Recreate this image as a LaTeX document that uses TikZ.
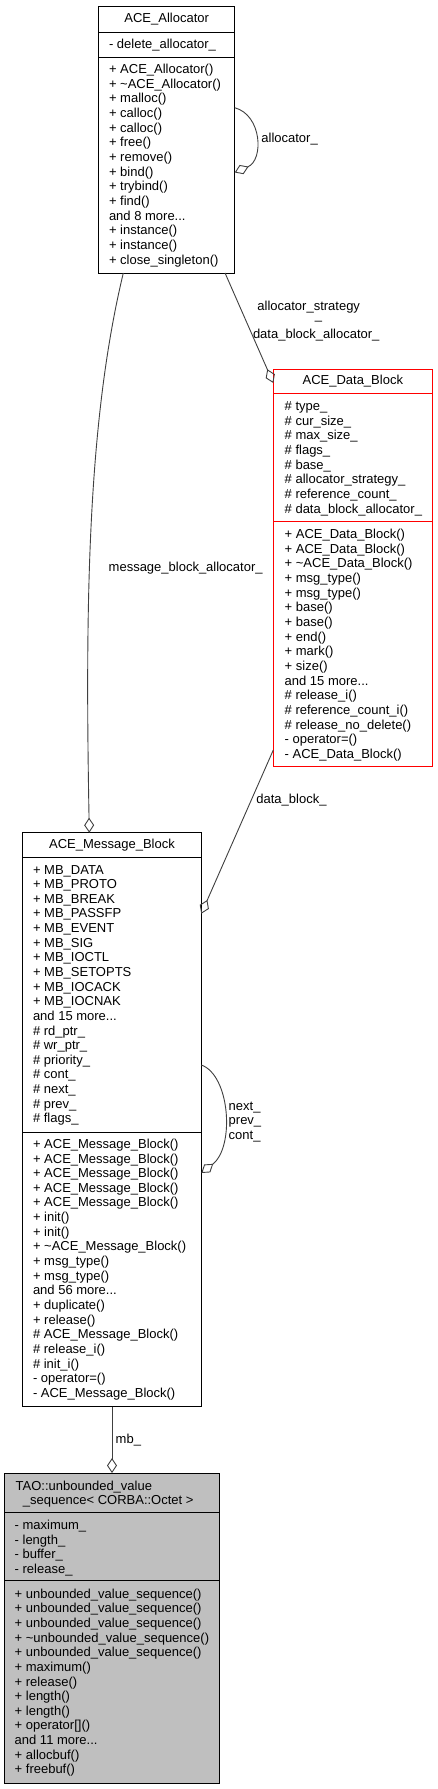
\documentclass[tikz,border=0pt]{standalone}
\usepackage{fontspec}
\setmainfont{Liberation Sans}
\usetikzlibrary{arrows.meta,calc}
\definecolor{edgec}{HTML}{404040}
\definecolor{taofill}{HTML}{BFBFBF}
\begin{document}
\begin{tikzpicture}[x=1pt,y=-1pt,
  font=\fontsize{13}{14.64}\selectfont,
  cls/.style={draw=black, line width=0.9pt, rectangle, inner sep=0pt, outer sep=0pt},
  sepline/.style={draw=black, line width=0.9pt},
  txt/.style={anchor=north west, inner sep=0pt, align=left},
  ttl/.style={anchor=base, inner sep=0pt},
  lbl/.style={anchor=base west, inner sep=0pt},
  agg/.style={draw=edgec, line width=0.9pt, -{Diamond[open, length=15pt, width=10pt]}},
]
\fill[white] (0,0) rectangle (437,1789);
\useasboundingbox (0,0) rectangle (437,1789);

% ---------------- ACE_Allocator
\node[cls, minimum width=136pt, minimum height=267pt] (alloc) at (166.7,139.5) {};
\draw[sepline] ($(alloc.north west)+(0,26)$) -- ($(alloc.north east)+(0,26)$);
\draw[sepline] ($(alloc.north west)+(0,51.3)$) -- ($(alloc.north east)+(0,51.3)$);
\node[ttl] (allocT) at (166.7,22.8) {ACE\_Allocator};
\node[txt] (allocA) at (108.8,37.95) {\strut- delete\_allocator\_};
\node[txt] (allocM) at (108.8,63.25) {\strut+ ACE\_Allocator()\\
+ \textasciitilde ACE\_Allocator()\\
+ malloc()\\
+ calloc()\\
+ calloc()\\
+ free()\\
+ remove()\\
+ bind()\\
+ trybind()\\
+ find()\\
and 8 more...\\
+ instance()\\
+ instance()\\
+ close\_singleton()};

% ---------------- ACE_Data_Block
\node[cls, draw=red, minimum width=159pt, minimum height=397.7pt] (datab) at (352.8,567.85) {};
\draw[sepline, draw=red] ($(datab.north west)+(0,24.7)$) -- ($(datab.north east)+(0,24.7)$);
\draw[sepline, draw=red] ($(datab.north west)+(0,152.7)$) -- ($(datab.north east)+(0,152.7)$);
\node[ttl] (databT) at (352.8,384.5) {ACE\_Data\_Block};
\node[txt] (databA) at (284.5,400.25) {\strut\# type\_\\
\# cur\_size\_\\
\# max\_size\_\\
\# flags\_\\
\# base\_\\
\# allocator\_strategy\_\\
\# reference\_count\_\\
\# data\_block\_allocator\_};
\node[txt] (databM) at (284.5,528.25) {\strut+ ACE\_Data\_Block()\\
+ ACE\_Data\_Block()\\
+ \textasciitilde ACE\_Data\_Block()\\
+ msg\_type()\\
+ msg\_type()\\
+ base()\\
+ base()\\
+ end()\\
+ mark()\\
+ size()\\
and 15 more...\\
\# release\_i()\\
\# reference\_count\_i()\\
\# release\_no\_delete()\\
- operator=()\\
- ACE\_Data\_Block()};

% ---------------- ACE_Message_Block
\node[cls, minimum width=178.6pt, minimum height=574pt] (msg) at (112,1119.7) {};
\draw[sepline] ($(msg.north west)+(0,24.6)$) -- ($(msg.north east)+(0,24.6)$);
\draw[sepline] ($(msg.north west)+(0,300)$) -- ($(msg.north east)+(0,300)$);
\node[ttl] (msgT) at (112,848.5) {ACE\_Message\_Block};
\node[txt] (msgA) at (32.8,863.55) {\strut+ MB\_DATA\\
+ MB\_PROTO\\
+ MB\_BREAK\\
+ MB\_PASSFP\\
+ MB\_EVENT\\
+ MB\_SIG\\
+ MB\_IOCTL\\
+ MB\_SETOPTS\\
+ MB\_IOCACK\\
+ MB\_IOCNAK\\
and 15 more...\\
\# rd\_ptr\_\\
\# wr\_ptr\_\\
\# priority\_\\
\# cont\_\\
\# next\_\\
\# prev\_\\
\# flags\_};
\node[txt] (msgM) at (32.8,1137.95) {\strut+ ACE\_Message\_Block()\\
+ ACE\_Message\_Block()\\
+ ACE\_Message\_Block()\\
+ ACE\_Message\_Block()\\
+ ACE\_Message\_Block()\\
+ init()\\
+ init()\\
+ \textasciitilde ACE\_Message\_Block()\\
+ msg\_type()\\
+ msg\_type()\\
and 56 more...\\
+ duplicate()\\
+ release()\\
\# ACE\_Message\_Block()\\
\# release\_i()\\
\# init\_i()\\
- operator=()\\
- ACE\_Message\_Block()};

% ---------------- TAO::unbounded_value_sequence
\node[cls, fill=taofill, minimum width=215pt, minimum height=310.3pt] (tao) at (111.8,1628.15) {};
\draw[sepline] ($(tao.north west)+(0,39.5)$) -- ($(tao.north east)+(0,39.5)$);
\draw[sepline] ($(tao.north west)+(0,107.5)$) -- ($(tao.north east)+(0,107.5)$);
\node[lbl] (taoT1) at (15.5,1490.2) {TAO::unbounded\_value};
\node[lbl] (taoT2) at (22.8,1504.5) {\_sequence< CORBA::Octet >};
\node[txt] (taoA) at (14.5,1519.25) {\strut- maximum\_\\
- length\_\\
- buffer\_\\
- release\_};
\node[txt] (taoM) at (14.5,1587.75) {\strut+ unbounded\_value\_sequence()\\
+ unbounded\_value\_sequence()\\
+ unbounded\_value\_sequence()\\
+ \textasciitilde unbounded\_value\_sequence()\\
+ unbounded\_value\_sequence()\\
+ maximum()\\
+ release()\\
+ length()\\
+ length()\\
+ operator[]()\\
and 11 more...\\
+ allocbuf()\\
+ freebuf()};

% ---------------- connectors
% allocator_ (self)
\draw[agg] ($(alloc.north east)+(0,101.7)$) .. controls +(27.3,7.3) and +(29.3,-12.5) .. ($(alloc.north east)+(0,166.5)$);
\node[lbl] (lAlloc) at (261.2,142.5) {allocator\_};

% allocator_strategy_ / data_block_allocator_
\draw[agg] ($(alloc.south west)!0.929!(alloc.south east)$) -- ($(datab.north west)+(0,14)$);
\node[lbl] (lStrat1) at (257.2,310.2) {allocator\_strategy};
\node[lbl] (lStrat2) at (314.7,319.7) {\_};
\node[lbl] (lStrat3) at (252.8,338.5) {data\_block\_allocator\_};

% message_block_allocator_
\draw[agg] ($(alloc.south west)!0.181!(alloc.south east)$) .. controls (88,420) and (85,600) .. ($(msg.north west)!0.373!(msg.north east)$);
\node[lbl] (lMba) at (108.5,571.2) {message\_block\_allocator\_};

% data_block_
\draw[agg] ($(datab.south west)+(0,-16.7)$) -- ($(msg.north east)+(0,81)$);
\node[lbl] (lDb) at (256.2,803.5) {data\_block\_};

% next_ prev_ cont_ (self)
\draw[agg] ($(msg.north east)+(0,232.3)$) .. controls +(28.7,10) and +(33.7,-26) .. ($(msg.north east)+(0,340.3)$);
\node[txt, font=\fontsize{13}{14.3}\selectfont] (lNpc) at (228.5,1100.2) {\strut next\_\\prev\_\\cont\_};

% mb_
\draw[agg] (msg.south) -- (msg.south |- tao.north);
\node[lbl] (lMb) at (115.5,1443.5) {mb\_};
\end{tikzpicture}
\end{document}
